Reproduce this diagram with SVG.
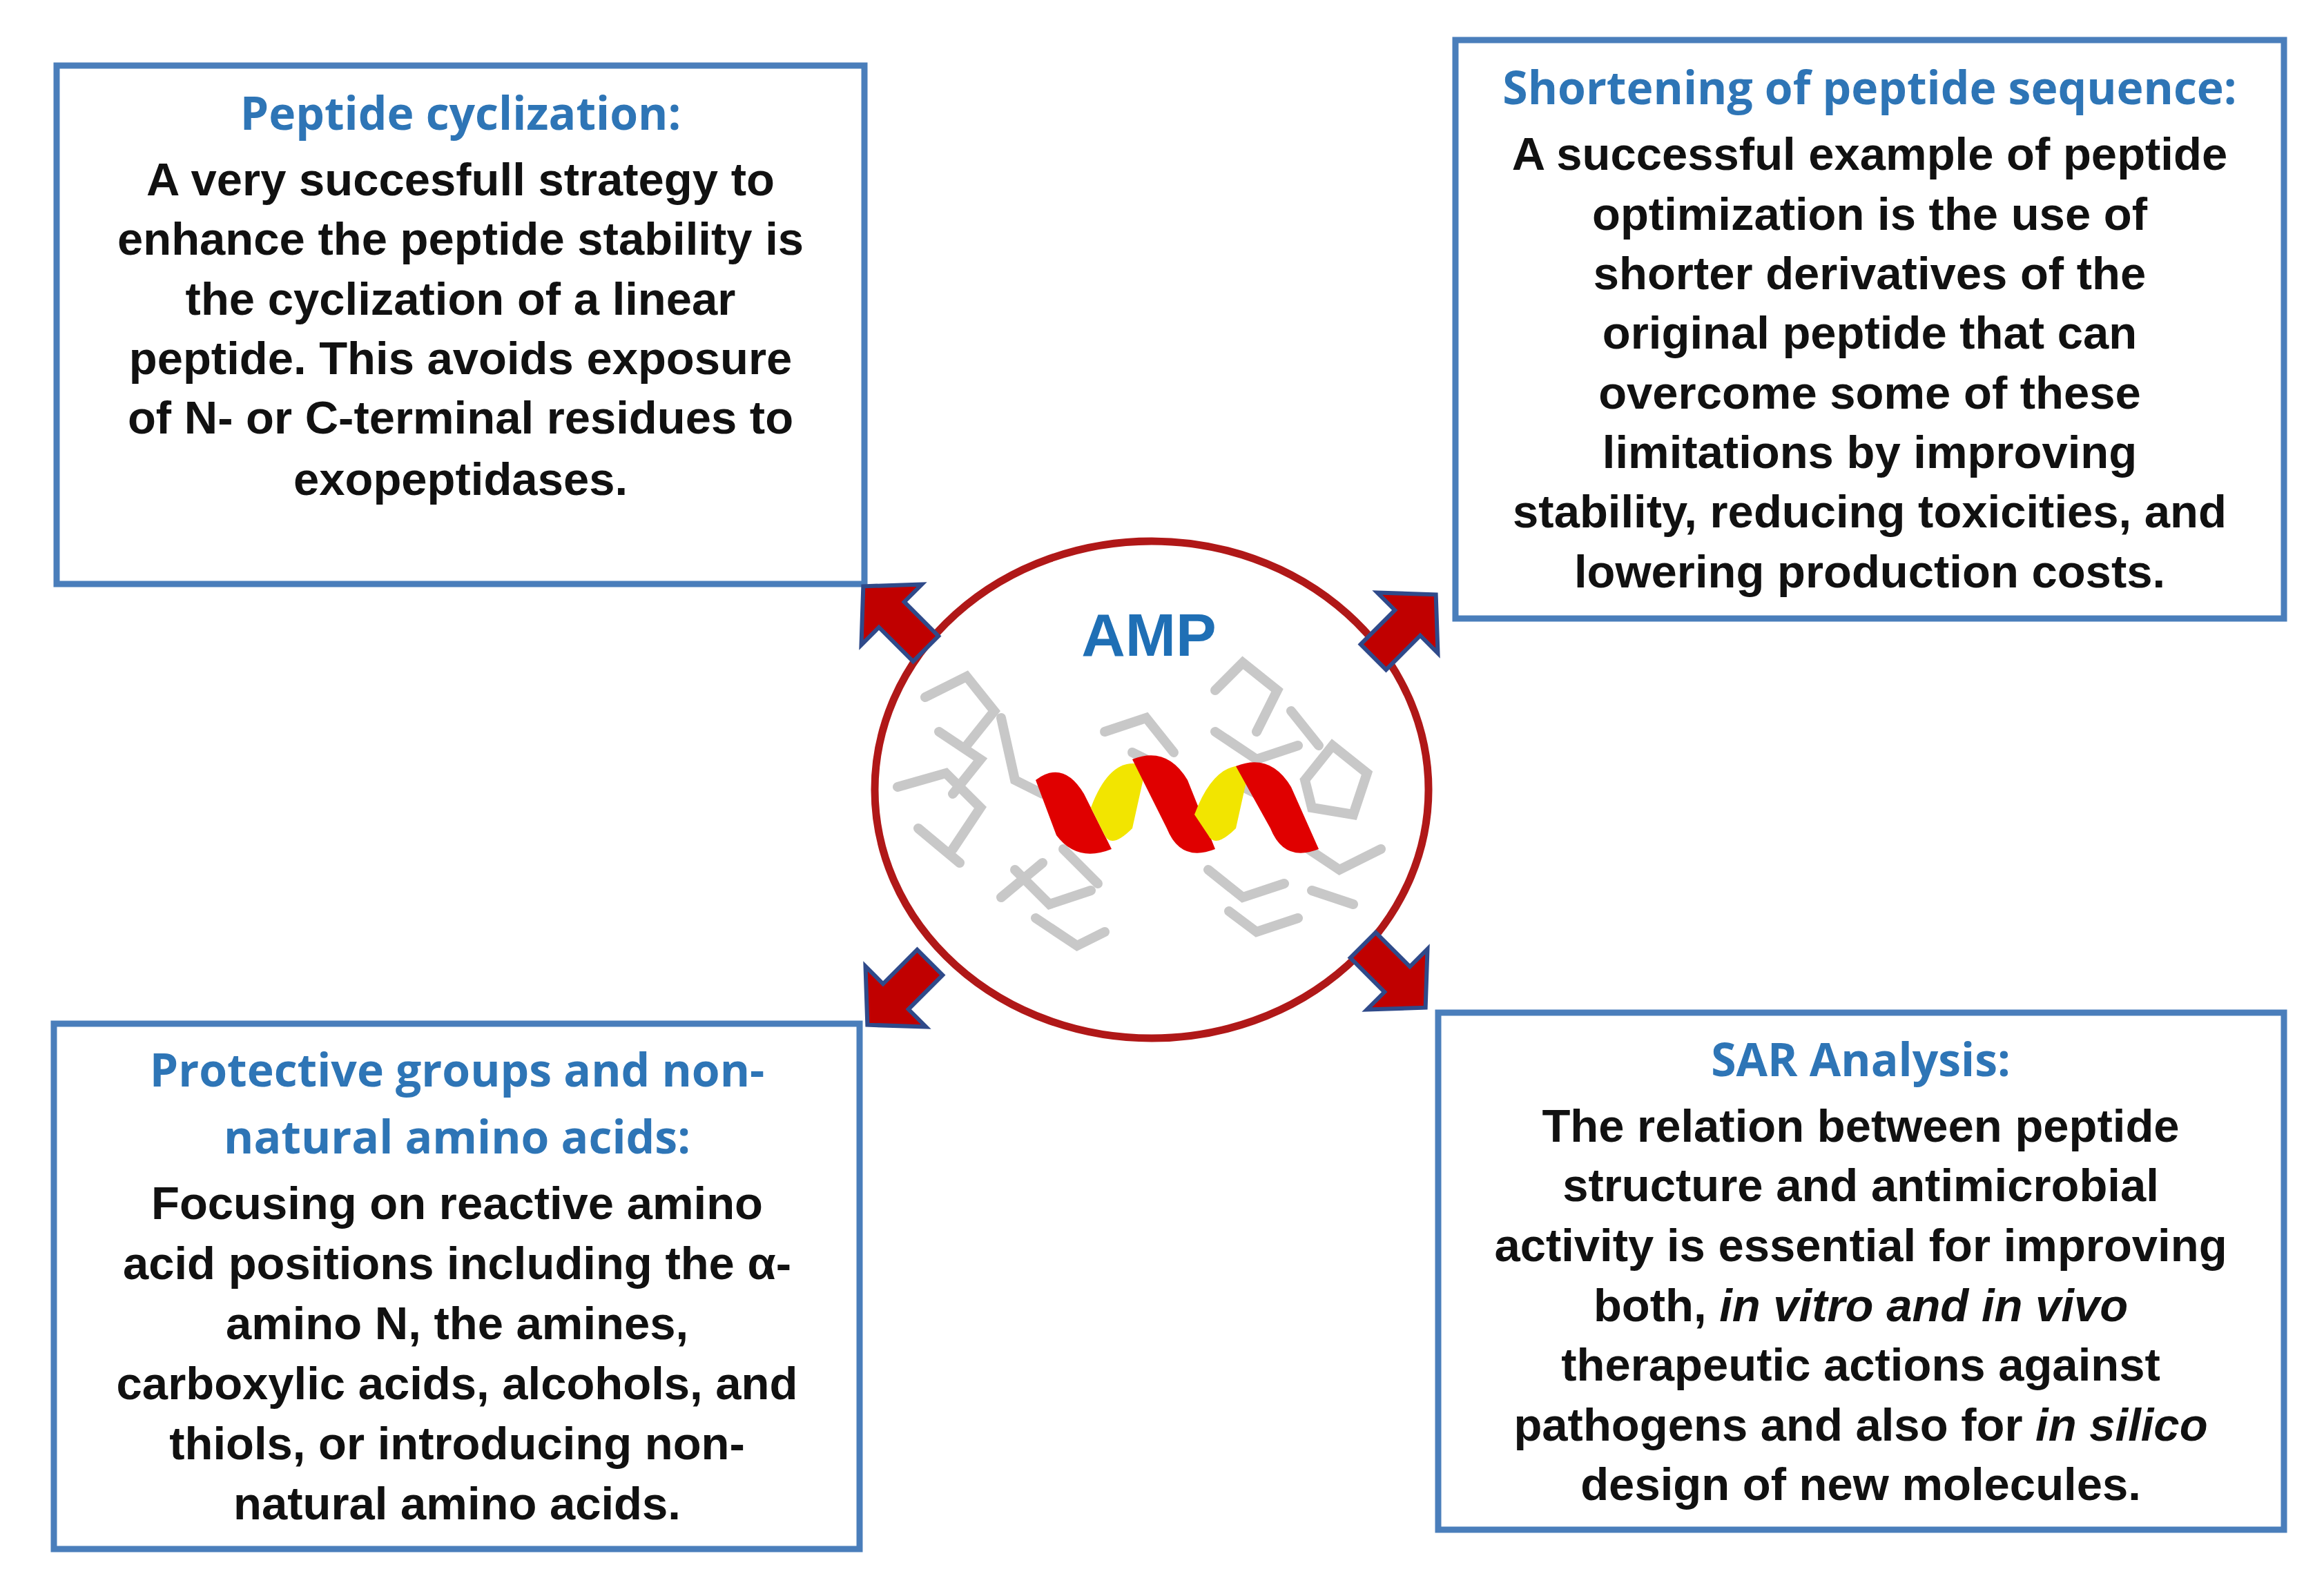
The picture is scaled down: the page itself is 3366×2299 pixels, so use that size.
<svg xmlns="http://www.w3.org/2000/svg" width="3366" height="2299" viewBox="0 0 3366 2299">
<style>
.box{fill:#fff;stroke:#4A7EBB;stroke-width:9}
.ttl{font-family:"Open Sans","Liberation Sans",sans-serif;font-weight:bold;font-size:66px;fill:#2E75B6;text-anchor:middle}
.bd{font-family:"Liberation Sans",Arial,sans-serif;font-weight:bold;font-size:67px;fill:#111;text-anchor:middle}
.arr{fill:#C00000;stroke:#2F4A8A;stroke-width:6;stroke-linejoin:miter}
.st{stroke:#C8C8C8;stroke-width:14;stroke-linecap:round;fill:none}
</style>
<defs>
<path id="ar" d="M-62,-26 L8,-26 L8,-62 L66,0 L8,62 L8,26 L-62,26 Z"/>
</defs>
<rect width="3366" height="2299" fill="#fff"/>
<g id="n-cyclization">
<rect class="box" x="82" y="95" width="1170" height="751"/>
<text class="ttl" x="667" y="188">Peptide cyclization:</text>
<text class="bd"><tspan x="667" y="283">A very succesfull strategy to</tspan><tspan x="667" y="369">enhance the peptide stability is</tspan><tspan x="667" y="456">the cyclization of a linear</tspan><tspan x="667" y="542">peptide. This avoids exposure</tspan><tspan x="667" y="628">of N- or C-terminal residues to</tspan><tspan x="667" y="717">exopeptidases.</tspan></text>
</g>
<g id="n-shortening">
<rect class="box" x="2108" y="58" width="1200" height="838"/>
<text class="ttl" x="2708" y="151">Shortening of peptide sequence:</text>
<text class="bd"><tspan x="2708" y="246">A successful example of peptide</tspan><tspan x="2708" y="333">optimization is the use of</tspan><tspan x="2708" y="419">shorter derivatives of the</tspan><tspan x="2708" y="505">original peptide that can</tspan><tspan x="2708" y="592">overcome some of these</tspan><tspan x="2708" y="678">limitations by improving</tspan><tspan x="2708" y="764">stability, reducing toxicities, and</tspan><tspan x="2708" y="851">lowering production costs.</tspan></text>
</g>
<g id="n-protective">
<rect class="box" x="78" y="1483" width="1167" height="761"/>
<text class="ttl"><tspan x="662" y="1574">Protective groups and non-</tspan><tspan x="662" y="1671">natural amino acids:</tspan></text>
<text class="bd"><tspan x="662" y="1766">Focusing on reactive amino</tspan><tspan x="662" y="1853">acid positions including the α-</tspan><tspan x="662" y="1940">amino N, the amines,</tspan><tspan x="662" y="2027">carboxylic acids, alcohols, and</tspan><tspan x="662" y="2114">thiols, or introducing non-</tspan><tspan x="662" y="2201">natural amino acids.</tspan></text>
</g>
<g id="n-sar">
<rect class="box" x="2083" y="1467" width="1225" height="749"/>
<text class="ttl" x="2695" y="1559">SAR Analysis:</text>
<text class="bd"><tspan x="2695" y="1654">The relation between peptide</tspan><tspan x="2695" y="1740">structure and antimicrobial</tspan><tspan x="2695" y="1827">activity is essential for improving</tspan><tspan x="2695" y="1914">both, <tspan font-style="italic">in vitro and in vivo</tspan></tspan><tspan x="2695" y="2000">therapeutic actions against</tspan><tspan x="2695" y="2087">pathogens and also for <tspan font-style="italic">in silico</tspan></tspan><tspan x="2695" y="2173">design of new molecules.</tspan></text>
</g>
<g id="n-amp">
<ellipse cx="1668" cy="1144" rx="401" ry="360" fill="#fff" stroke="#B01818" stroke-width="11"/>
<text x="1664" y="950" font-family="Liberation Sans,Arial,sans-serif" font-weight="bold" font-size="88" fill="#1F6FB5" text-anchor="middle">AMP</text>
<g class="st">
<path d="M1340,1010 L1400,980 L1440,1030 L1400,1080 M1360,1060 L1420,1100 L1380,1150 M1300,1140 L1370,1120 L1420,1170 L1380,1230 M1330,1200 L1390,1250 M1450,1040 L1470,1130 L1510,1150"/>
<path d="M1470,1260 L1520,1310 L1580,1290 M1500,1330 L1560,1370 L1600,1350 M1450,1300 L1510,1250 M1540,1230 L1590,1280"/>
<path d="M1600,1060 L1660,1040 L1700,1090 M1640,1090 L1700,1120"/>
<path d="M1760,1000 L1800,960 L1850,1000 L1820,1060 M1760,1060 L1820,1100 L1880,1080 M1780,1130 L1840,1160 M1870,1030 L1910,1080"/>
<path d="M1890,1130 L1930,1080 L1980,1120 L1960,1180 L1900,1170 Z M1880,1220 L1940,1260 L2000,1230 M1900,1290 L1960,1310 M1750,1260 L1800,1300 L1860,1280 M1780,1320 L1820,1350 L1880,1330"/>
</g>
<path d="M1500,1130 Q1540,1100 1570,1150 L1610,1230 Q1560,1250 1530,1210 Z" fill="#E00000"/>
<path d="M1580,1170 Q1610,1090 1660,1110 L1640,1200 Q1610,1230 1600,1210 Z" fill="#F2E500"/>
<path d="M1640,1100 Q1690,1080 1720,1130 L1760,1230 Q1710,1250 1690,1200 Z" fill="#E00000"/>
<path d="M1730,1180 Q1760,1100 1810,1110 L1790,1200 Q1760,1230 1750,1210 Z" fill="#F2E500"/>
<path d="M1790,1110 Q1840,1090 1870,1140 L1910,1230 Q1860,1250 1840,1200 Z" fill="#E00000"/>
</g>
<g id="connectors">
<use href="#ar" class="arr" transform="translate(1297,896) rotate(-135)"/>
<use href="#ar" class="arr" transform="translate(2033,908) rotate(-45)"/>
<use href="#ar" class="arr" transform="translate(1303,1438) rotate(135)"/>
<use href="#ar" class="arr" transform="translate(2018,1413) rotate(45)"/>
</g>
</svg>
